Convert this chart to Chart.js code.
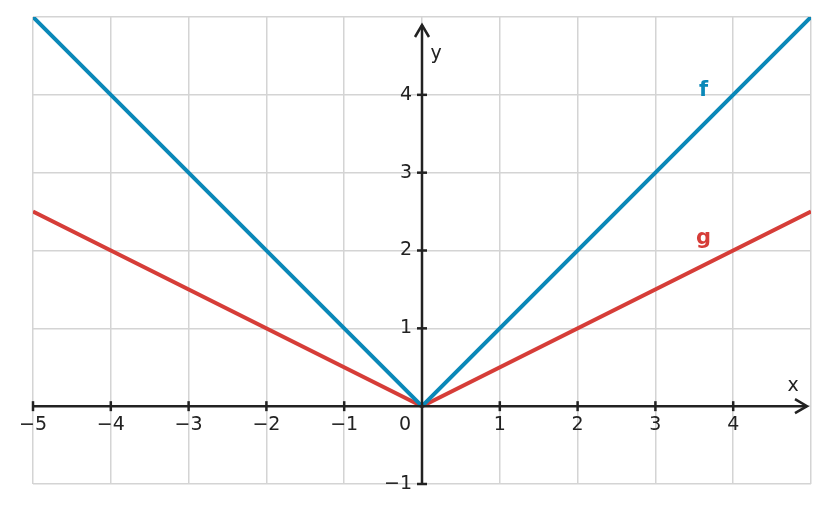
<!DOCTYPE html>
<html><head><meta charset="utf-8">
<script src="https://cdn.jsdelivr.net/npm/chart.js@4/dist/chart.umd.min.js"></script>
<style>html,body{margin:0;padding:0;background:#fff}#w{width:828px;height:512px}</style>
</head><body><div id="w"><canvas id="c"></canvas></div>
<script>
const xValues = [-5, 0, 5];
const fValues = [5, 0, 5];
const gValues = [2.5, 0, 2.5];
const xTickLabels = [-5, -4, -3, -2, -1, 1, 2, 3, 4];
const yTickLabels = [-1, 1, 2, 3, 4];
const seriesNames = ['f', 'g'];
const labelPos = [[3.62, 4.05], [3.62, 2.15]];
const BLUE = '#0a88b8', RED = '#d63d38', INK = '#222';
const fmt = v => v < 0 ? '\u2212' + Math.abs(v) : String(v);

const axesPlugin = {
  id: 'axes',
  afterDatasetsDraw(chart) {
    const {ctx, scales: {x, y}} = chart;
    const x0 = x.getPixelForValue(0), y0 = y.getPixelForValue(0);
    ctx.save();
    ctx.strokeStyle = INK; ctx.fillStyle = INK; ctx.lineWidth = 2.5;
    // x axis
    const xr = x.getPixelForValue(5) - 4;
    ctx.beginPath(); ctx.moveTo(x.getPixelForValue(-5), y0); ctx.lineTo(xr, y0); ctx.stroke();
    ctx.beginPath(); ctx.moveTo(xr - 12, y0 - 7); ctx.lineTo(xr, y0); ctx.lineTo(xr - 12, y0 + 7); ctx.stroke();
    // y axis
    const yt = y.getPixelForValue(5) + 8;
    ctx.beginPath(); ctx.moveTo(x0, y.getPixelForValue(-1)); ctx.lineTo(x0, yt); ctx.stroke();
    ctx.beginPath(); ctx.moveTo(x0 - 7, yt + 12); ctx.lineTo(x0, yt); ctx.lineTo(x0 + 7, yt + 12); ctx.stroke();
    ctx.font = '19px "DejaVu Sans"';
    ctx.textAlign = 'center'; ctx.textBaseline = 'top';
    for (const v of xTickLabels) {
      const px = x.getPixelForValue(v);
      ctx.beginPath(); ctx.moveTo(px, y0 - 5); ctx.lineTo(px, y0 + 5); ctx.stroke();
      ctx.fillText(fmt(v), px, y0 + 9);
    }
    ctx.fillText('0', x0 - 17, y0 + 9);
    ctx.textAlign = 'right'; ctx.textBaseline = 'middle';
    for (const v of yTickLabels) {
      const py = y.getPixelForValue(v);
      ctx.beginPath(); ctx.moveTo(x0 - 5, py); ctx.lineTo(x0 + 5, py); ctx.stroke();
      ctx.fillText(fmt(v), x0 - 10, py);
    }
    ctx.textAlign = 'center';
    ctx.fillText('x', x.getPixelForValue(4.77), y0 - 20);
    ctx.fillText('y', x0 + 14, y.getPixelForValue(4.53));
    ctx.font = 'bold 21px "DejaVu Sans"';
    [BLUE, RED].forEach((c, i) => {
      ctx.fillStyle = c;
      ctx.fillText(seriesNames[i], x.getPixelForValue(labelPos[i][0]), y.getPixelForValue(labelPos[i][1]));
    });
    ctx.restore();
  }
};

new Chart(document.getElementById('c'), {
  type: 'line',
  data: {
    datasets: [
      {label: seriesNames[0], data: xValues.map((v, i) => ({x: v, y: fValues[i]})), borderColor: BLUE, borderWidth: 4, pointRadius: 0, fill: false},
      {label: seriesNames[1], data: xValues.map((v, i) => ({x: v, y: gValues[i]})), borderColor: RED, borderWidth: 4, pointRadius: 0, fill: false}
    ]
  },
  options: {
    responsive: true, maintainAspectRatio: false, animation: false,
    layout: {padding: {left: 33, right: 17, top: 17, bottom: 28}},
    plugins: {legend: {display: false}, tooltip: {enabled: false}},
    scales: {
      x: {type: 'linear', min: -5, max: 5, ticks: {display: false, stepSize: 1}, border: {display: false},
          grid: {color: '#d4d4d4', lineWidth: 1.5, drawTicks: false}},
      y: {type: 'linear', min: -1, max: 5, ticks: {display: false, stepSize: 1}, border: {display: false},
          grid: {color: '#d4d4d4', lineWidth: 1.5, drawTicks: false}}
    }
  },
  plugins: [axesPlugin]
});
</script></body></html>
